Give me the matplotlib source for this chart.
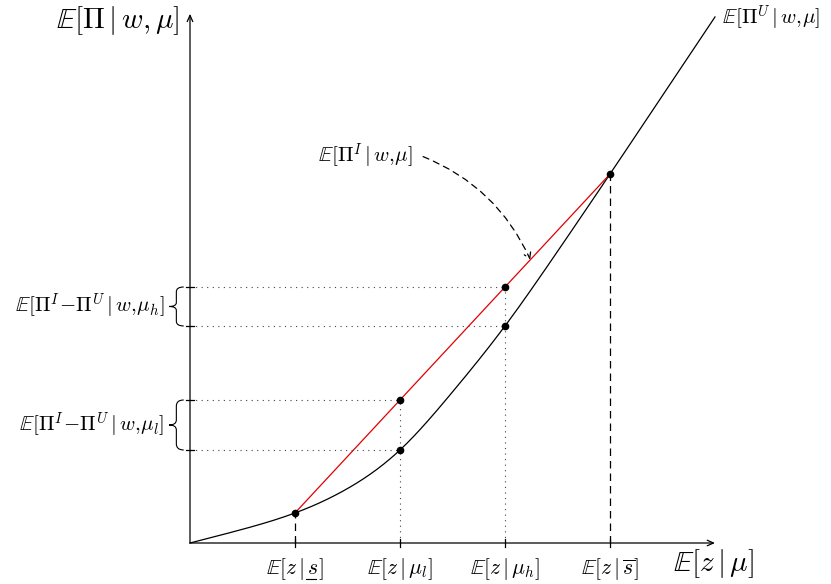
import matplotlib
matplotlib.use("agg")
import matplotlib.pyplot as plt
from matplotlib.patches import FancyArrowPatch, PathPatch
from matplotlib.path import Path
import numpy as np

plt.rcParams['mathtext.fontset'] = 'cm'
plt.rcParams['font.family'] = 'serif'

# positions on the x axis: s_low, mu_l, mu_h, s_bar
x_marks = [1.0, 2.0, 3.0, 4.0]
x_labels = [r'$\mathbb{E}[z\,|\,s]$', r'$\mathbb{E}[z\,|\,\mu_l]$',
            r'$\mathbb{E}[z\,|\,\mu_h]$', r'$\mathbb{E}[z\,|\,\overline{s}]$']

# uninformed profit curve, read along its length
curve_x = [0.0, 0.476, 1.0, 1.476, 2.0, 2.476, 3.0, 3.492, 4.0, 4.5, 5.0]
curve_y = [0.0, 0.124, 0.286, 0.505, 0.886, 1.41, 2.067, 2.765, 3.514, 4.262, 5.01]

# informed profit chord and its values at mu_l, mu_h
chord_x = [1.0, 4.0]
chord_y = [0.286, 3.514]
informed_at = [1.362, 2.438]
uninformed_at = [0.886, 2.067]


def cubic_spline(xs, ys, n=400):
    # natural cubic spline through the given points
    x = np.asarray(xs, float)
    y = np.asarray(ys, float)
    h = np.diff(x)
    m = len(x)
    A = np.zeros((m, m))
    b = np.zeros(m)
    A[0, 0] = A[-1, -1] = 1
    for i in range(1, m - 1):
        A[i, i - 1] = h[i - 1]
        A[i, i] = 2 * (h[i - 1] + h[i])
        A[i, i + 1] = h[i]
        b[i] = 6 * ((y[i + 1] - y[i]) / h[i] - (y[i] - y[i - 1]) / h[i - 1])
    M = np.linalg.solve(A, b)
    xx = np.linspace(x[0], x[-1], n)
    k = np.clip(np.searchsorted(x, xx) - 1, 0, m - 2)
    t0 = x[k + 1] - xx
    t1 = xx - x[k]
    hk = h[k]
    yy = (M[k] * t0 ** 3 + M[k + 1] * t1 ** 3) / (6 * hk) \
        + (y[k] / hk - M[k] * hk / 6) * t0 + (y[k + 1] / hk - M[k + 1] * hk / 6) * t1
    return xx, yy


def brace(ax, x, y0, y1, w):
    # left-opening curly brace between y0 and y1
    ym = 0.5 * (y0 + y1)
    h = y1 - y0
    verts = [(x, y0), (x - w * 0.5, y0), (x - w * 0.5, y0 + 0.12 * h),
             (x - w * 0.5, ym - 0.1 * h),
             (x - w * 0.5, ym), (x - w, ym),
             (x - w * 0.5, ym), (x - w * 0.5, ym + 0.1 * h),
             (x - w * 0.5, y1 - 0.12 * h),
             (x - w * 0.5, y1), (x, y1)]
    codes = [Path.MOVETO, Path.CURVE3, Path.CURVE3,
             Path.LINETO,
             Path.CURVE3, Path.CURVE3,
             Path.CURVE3, Path.CURVE3,
             Path.LINETO,
             Path.CURVE3, Path.CURVE3]
    ax.add_patch(PathPatch(Path(verts, codes), fill=False, lw=0.8, color='black'))


fig = plt.figure(figsize=(8.31, 5.84), dpi=100)
ax = fig.add_axes([0, 0, 1, 1])
ax.set_xlim(-190 / 105, 641 / 105)
ax.set_ylim(-41 / 105, 543 / 105)
ax.axis('off')

# axes with arrow heads
ax.annotate('', xy=(5.0, 0), xytext=(0, 0),
            arrowprops=dict(arrowstyle='->,head_length=0.45,head_width=0.2', lw=0.9, color='black',
                            shrinkA=0, shrinkB=0))
ax.annotate('', xy=(0, 5.04), xytext=(0, 0),
            arrowprops=dict(arrowstyle='->,head_length=0.45,head_width=0.2', lw=0.9, color='black',
                            shrinkA=0, shrinkB=0))

cx, cy = cubic_spline(curve_x, curve_y)
ax.plot(cx, cy, color='black', lw=0.9)
ax.plot(chord_x, chord_y, color='#e00000', lw=0.9)

dot = dict(color='#444444', lw=0.8, linestyle=(0, (1, 4)))
for xm, yi, yu in zip(x_marks[1:3], informed_at, uninformed_at):
    ax.plot([0, xm], [yi, yi], **dot)
    ax.plot([0, xm], [yu, yu], **dot)
    ax.plot([xm, xm], [0, yi], **dot)
    ax.plot([xm, xm], [yi, yu], 'o', color='black', ms=4.5)
    for yv in (yi, yu):
        ax.plot([-0.04, 0.04], [yv, yv], color='black', lw=0.9)

dash = dict(color='black', lw=0.9, linestyle=(0, (6, 4)))
ax.plot([x_marks[0], x_marks[0]], [0, chord_y[0]], **dash)
ax.plot([x_marks[-1], x_marks[-1]], [0, chord_y[-1]], **dash)
ax.plot(chord_x, chord_y, 'o', color='black', ms=4.5)

label_texts = []
for xm, lab in zip(x_marks, x_labels):
    ax.plot([xm, xm], [-0.04, 0.04], color='black', lw=0.9)
    label_texts.append(ax.text(xm, -0.12, lab, ha='center', va='top', fontsize=15.5))

# underline under the s of the first tick label
fig.canvas.draw()
renderer = fig.canvas.get_renderer()
full = label_texts[0].get_window_extent(renderer)
pre = ax.text(0, 0, r'$\mathbb{E}[z\,|\,$', fontsize=15.5).get_window_extent(renderer)
ess = ax.text(0, 0, r'$s$', fontsize=15.5).get_window_extent(renderer)
ax.texts[-1].remove()
ax.texts[-1].remove()
inv = ax.transData.inverted()
ux0 = full.x0 + pre.width + 1
ux1 = ux0 + ess.width - 1
uy = full.y0 + 3
(dx0, dy), (dx1, _) = inv.transform([(ux0, uy), (ux1, uy)])
ax.plot([dx0, dx1], [dy, dy], color='black', lw=0.8)

# braces and gap labels
brace(ax, -0.06, uninformed_at[0], informed_at[0], 0.14)
brace(ax, -0.06, uninformed_at[1], informed_at[1], 0.14)
ax.text(-0.24, 0.5 * (uninformed_at[0] + informed_at[0]),
        r'$\mathbb{E}[\Pi^I\!-\!\Pi^U\,|\,w,\!\mu_l]$', ha='right', va='center', fontsize=15)
ax.text(-0.24, 0.5 * (uninformed_at[1] + informed_at[1]),
        r'$\mathbb{E}[\Pi^I\!-\!\Pi^U\,|\,w,\!\mu_h]$', ha='right', va='center', fontsize=15)

ax.text(-0.1, 4.98, r'$\mathbb{E}[\Pi\,|\,w,\mu]$', ha='right', va='center', fontsize=21)
ax.text(4.99, -0.2, r'$\mathbb{E}[z\,|\,\mu]$', ha='center', va='center', fontsize=21)
ax.text(5.07, 5.0, r'$\mathbb{E}[\Pi^U\,|\,w,\!\mu]$', ha='left', va='center', fontsize=15)
ax.text(1.67, 3.68, r'$\mathbb{E}[\Pi^I\,|\,w,\!\mu]$', ha='center', va='center', fontsize=15)

arr = FancyArrowPatch((2.22, 3.68), (3.24, 2.70), connectionstyle='arc3,rad=-0.2',
                      arrowstyle='->,head_length=4,head_width=2.5', lw=0.9, color='black',
                      linestyle=(0, (5, 4)), shrinkA=0, shrinkB=0)
ax.add_patch(arr)

fig.savefig('out.png', dpi=100)
